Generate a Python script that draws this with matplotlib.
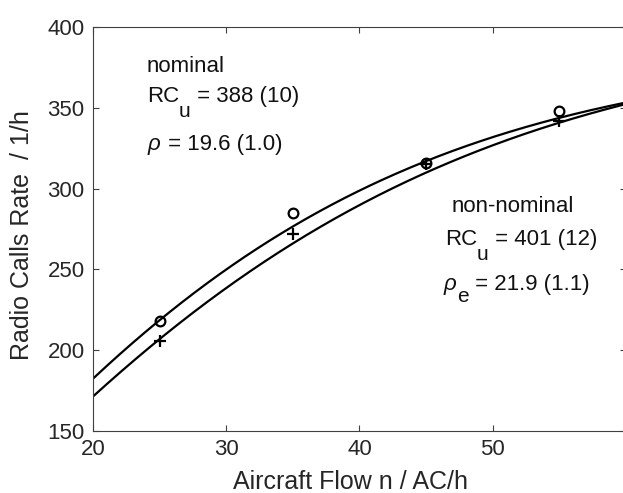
import numpy as np
import matplotlib
matplotlib.use("Agg")
import matplotlib.pyplot as plt

plt.rcParams['font.family'] = ['Liberation Sans', 'DejaVu Sans']
plt.rcParams['mathtext.fontset'] = 'custom'
plt.rcParams['mathtext.rm'] = 'Liberation Sans'
plt.rcParams['mathtext.it'] = 'Liberation Sans:italic'

# measured radio call rates
flow = [25, 35, 45, 55]
rate_nominal = [218, 285, 316, 348]
rate_non_nominal = [206, 272, 315, 342]

# fitted parameters: RC = RCu * tanh(n / (2 rho))
rcu_nominal, rho_nominal = 388, 19.6
rcu_non_nominal, rho_non_nominal = 401, 21.9

W, H = 623, 493
fig = plt.figure(figsize=(W / 100, H / 100), dpi=100)
ax = fig.add_axes([93 / W, 1 - 431 / H, 533 / W, 404 / H])

n = np.linspace(20, 60, 300)
ax.plot(n, rcu_nominal * np.tanh(n / (2 * rho_nominal)), color='black', lw=1.6)
ax.plot(n, rcu_non_nominal * np.tanh(n / (2 * rho_non_nominal)), color='black', lw=1.6)
ax.plot(flow, rate_nominal, 'o', mfc='none', mec='black', mew=1.6, ms=7)
ax.plot(flow, rate_non_nominal, '+', color='black', mew=1.6, ms=8)

ax.set_xlim(20, 60)
ax.set_ylim(150, 400)
ax.set_xticks([20, 30, 40, 50])
ax.set_yticks([150, 200, 250, 300, 350, 400])
ax.tick_params(direction='in', length=4, width=0.8, labelsize=16, color='#404040',
               labelcolor='#262626', top=True, right=True, pad=6)
for s in ax.spines.values():
    s.set_color('#404040')
    s.set_linewidth(0.8)

ax.set_xlabel('Aircraft Flow n / AC/h', fontsize=18, color='#262626', va='baseline')
ax.xaxis.set_label_coords((351 - 93) / 533, -(489 - 431) / 404)
ax.set_ylabel('Radio Calls Rate  / 1/h', fontsize=18, color='#262626', va='center')
ax.yaxis.set_label_coords((22 - 93) / 533, 1 - (235 - 27) / 404)

renderer = fig.canvas.get_renderer()


def run_text(xpx, ypx, pieces, fs=16):
    """Draw text pieces one after another; each piece is (text, drop_px, size)."""
    x = xpx
    for s, drop, size in pieces:
        t = fig.text(x / W, 1 - (ypx + drop) / H, s, fontsize=size or fs,
                     ha='left', va='baseline', color='#111111')
        x += t.get_window_extent(renderer).width


run_text(147, 72, [('nominal', 0, None)])
run_text(147, 102, [('RC', 0, None), ('u', 15, 15), (' = 388 (10)', 0, None)])
run_text(147, 150, [(r'$\rho$', 0, None), (' = 19.6 (1.0)', 0, None)])
run_text(452, 212, [('non-nominal', 0, None)])
run_text(445, 245, [('RC', 0, None), ('u', 15, 15), (' = 401 (12)', 0, None)])
run_text(443, 290, [(r'$\rho$', 0, None), ('e', 12, 15), (' = 21.9 (1.1)', 0, None)])

fig.savefig('out.png', dpi=100)
